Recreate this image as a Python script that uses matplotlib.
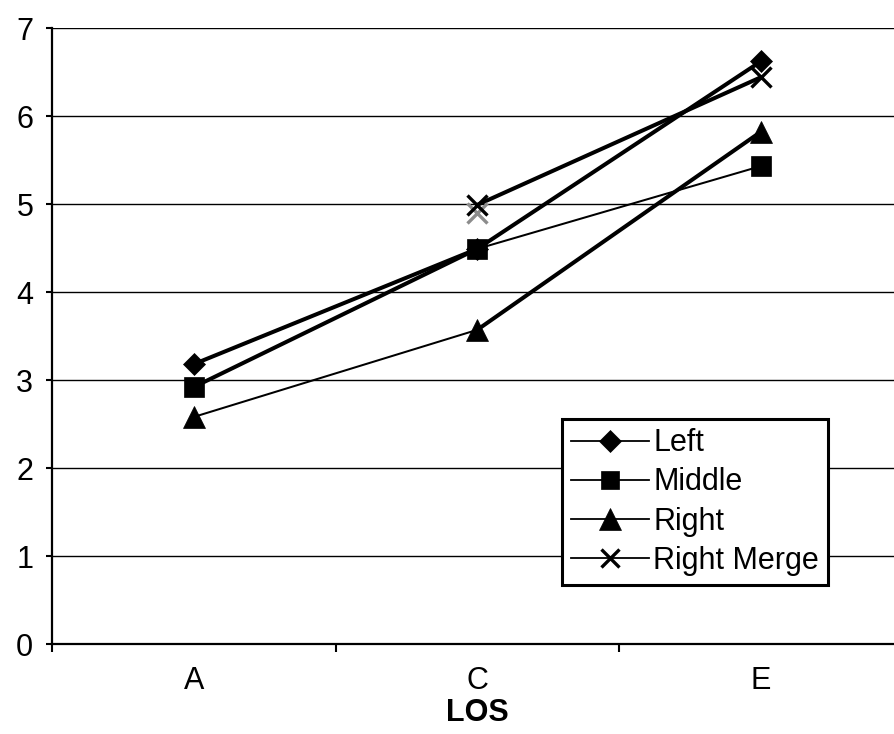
import matplotlib
matplotlib.use("Agg")
import matplotlib.pyplot as plt
from matplotlib.lines import Line2D

# category positions and labels
categories = ["A", "C", "E"]

# series values (None = no point)
left = [3.18, 4.49, 6.62]
middle = [2.92, 4.49, 5.43]
right = [2.58, 3.57, 5.82]
right_merge = [None, 4.99, 6.44]
# faint grey duplicate of the merge marker at C
merge_shadow = [None, 4.90, None]

yticks = [0, 1, 2, 3, 4, 5, 6, 7]

THICK = 2.9
THIN = 1.45

series = [
    ("Left", left, "D", 11.5, [THICK, THICK]),
    ("Middle", middle, "s", 14.0, [THICK, THIN]),
    ("Right", right, "^", 16.0, [THIN, THICK]),
    ("Right Merge", right_merge, "x", 14.0, [THICK, THICK]),
]

plt.rcParams["font.family"] = ["Liberation Sans", "DejaVu Sans"]
plt.rcParams["font.size"] = 22

fig = plt.figure(figsize=(8.95, 7.34), dpi=100)
ax = fig.add_axes([52 / 895, 90 / 734, 850.5 / 895, 616 / 734])

xs = list(range(len(categories)))

handles = []
for name, vals, marker, ms, widths in series:
    # each segment gets its own width, like the original
    for i in range(len(vals) - 1):
        if vals[i] is None or vals[i + 1] is None:
            continue
        ax.plot(xs[i:i + 2], vals[i:i + 2], color="black", lw=widths[i],
                solid_capstyle="round", zorder=3)
    px = [x for x, v in zip(xs, vals) if v is not None]
    py = [v for v in vals if v is not None]
    mew = 2.4 if marker == "x" else 0.5
    ax.plot(px, py, ls="none", marker=marker, ms=ms, color="black",
            mec="black", mew=mew, zorder=5)
    handles.append(Line2D([], [], color="black", lw=1.3, marker=marker,
                          ms=ms * 0.95, mew=mew, label=name))

sx = [x for x, v in zip(xs, merge_shadow) if v is not None]
sy = [v for v in merge_shadow if v is not None]
ax.plot(sx, sy, ls="none", marker="x", ms=14, mew=2.4, color="#8c8c8c",
        zorder=4)

ax.set_xlim(-0.5, len(categories) - 0.5)
ax.set_ylim(0, 7)
ax.set_yticks(yticks)
ax.set_xticks(xs)
ax.set_xticklabels(categories)
ax.set_xticks([x - 0.5 for x in range(len(categories) + 1)], minor=True)

ax.yaxis.grid(True, color="black", lw=1.0)
ax.set_axisbelow(True)

ax.tick_params(axis="x", which="major", length=0, pad=16)
ax.tick_params(axis="x", which="minor", length=6, width=1.5, direction="out")
ax.tick_params(axis="y", length=4.5, width=1.5, direction="out", pad=9)

for side in ("top", "right"):
    ax.spines[side].set_visible(False)
for side in ("left", "bottom"):
    ax.spines[side].set_linewidth(1.6)

ax.set_xlabel("LOS", fontweight="bold", labelpad=1)

leg = ax.legend(handles=handles, loc="lower right",
                bbox_to_anchor=(776 / 850.5, 59 / 616), borderaxespad=0,
                frameon=True, fancybox=False, edgecolor="black",
                handlelength=2.55, handletextpad=0.12, labelspacing=0.3,
                borderpad=0.3)
leg.get_frame().set_linewidth(2.2)
leg.get_frame().set_alpha(1)

fig.savefig("out.png", dpi=100)
